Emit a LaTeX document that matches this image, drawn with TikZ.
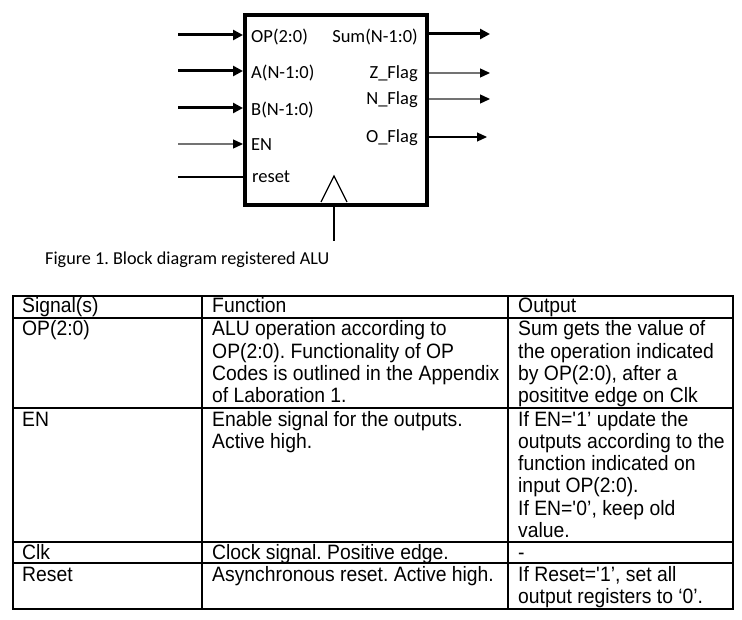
\documentclass[tikz,border=0pt]{standalone}
\usepackage{fontspec}
\setmainfont{Liberation Sans}
\newfontfamily\labelfont{Carlito}
\newfontfamily\tablefont[FakeStretch=0.93]{Liberation Sans}
\usetikzlibrary{arrows.meta}

% multi-line cell text, aligned on the baseline of its first line
\newcommand\cellrows[1]{\begin{tabular}[t]{@{}l@{}}#1\end{tabular}}

\begin{document}
\frenchspacing
\begin{tikzpicture}[x=1pt,y=-1pt,
  bus/.style={line width=3pt,-{Triangle[length=10pt,width=10pt]}},
  wire/.style={line width=1.3pt,black!55,-{Triangle[length=10pt,width=9pt,fill=black,color=black]}},
  wireblack/.style={line width=1.2pt,black,-{Triangle[length=10pt,width=9pt]}},
  pin/.style={font=\labelfont\fontsize{18.5}{22}\selectfont,inner sep=0pt},
  grid/.style={line width=1.1pt},
  cell/.style={font=\tablefont\fontsize{20.8}{22.3}\selectfont,inner sep=0pt,anchor=base west},
]
\useasboundingbox (0,0) rectangle (742,620);

% ---------- block ----------
\node[draw,line width=4pt,minimum width=182pt,minimum height=190pt,
      inner sep=0pt,anchor=north west] (alu) at (243,13) {};

% input sources
\coordinate (opsrc)  at (178,35);
\coordinate (asrc)   at (178,71);
\coordinate (bsrc)   at (178,108);
\coordinate (ensrc)  at (178,144);
\coordinate (rstsrc) at (178,177);
% output sinks
\coordinate (sumdst) at (490,34);
\coordinate (zdst)   at (490,73);
\coordinate (ndst)   at (490,99);
\coordinate (odst)   at (487,137);
% clock source
\coordinate (clksrc) at (334,241);

\draw[bus]  (opsrc) -- (opsrc -| alu.west);
\draw[bus]  (asrc)  -- (asrc  -| alu.west);
\draw[bus]  (bsrc)  -- (bsrc  -| alu.west);
\draw[wire] (ensrc) -- (ensrc -| alu.west);
\draw[line width=1.1pt] (rstsrc) -- (rstsrc -| alu.west);

\draw[bus]  (sumdst -| alu.east) -- (sumdst);
\draw[wire] (zdst -| alu.east) -- (zdst);
\draw[wire] (ndst -| alu.east) -- (ndst);
\draw[wireblack] (odst -| alu.east) -- (odst);

% clock input with edge marker
\draw[line width=1.2pt] (clksrc) -- (clksrc |- alu.south);
\draw[line width=1.2pt] (321,202) -- (334,176) -- (347,202);

% pin names
\node[pin,anchor=base west] (lop)  at (251,43)  {OP(2:0)};
\node[pin,anchor=base west] (la)   at (251,79)  {A(N-1:0)};
\node[pin,anchor=base west] (lb)   at (251,116) {B(N-1:0)};
\node[pin,anchor=base west] (len)  at (251,151) {EN};
\node[pin,anchor=base west] (lrst) at (252,183) {reset};
\node[pin,anchor=base east] (lsum) at (418,43)  {Sum(N-1:0)};
\node[pin,anchor=base east] (lz)   at (418,79)  {Z\_Flag};
\node[pin,anchor=base east] (ln)   at (418,105) {N\_Flag};
\node[pin,anchor=base east] (lo)   at (418,143) {O\_Flag};

% caption
\node[pin,font=\labelfont\fontsize{18.2}{22}\selectfont,anchor=base west] (cap)
  at (45,265) {Figure 1. Block diagram registered ALU};

% ---------- signal table ----------
\draw[grid] (13,296) rectangle (733,609);
\foreach \yy in {318,408,542,563} \draw[grid] (13,\yy) -- (733,\yy);
\draw[grid] (202,296) -- (202,609);
\draw[grid] (508,296) -- (508,609);

\node[cell] (h1) at (22,313)  {Signal(s)};
\node[cell] (h2) at (212,313) {Function};
\node[cell] (h3) at (518,313) {Output};

\node[cell] (s1) at (22,336)  {OP(2:0)};
\node[cell] (f1) at (212,336) {\cellrows{ALU operation according to\\OP(2:0). Functionality of OP\\Codes is outlined in the Appendix\\of Laboration 1.}};
\node[cell] (o1) at (518,336) {\cellrows{Sum gets the value of\\the operation indicated\\by OP(2:0), after a\\posititve edge on Clk}};

\node[cell] (s2) at (22,426)  {EN};
\node[cell] (f2) at (212,426) {\cellrows{Enable signal for the outputs.\\Active high.}};
\node[cell] (o2) at (518,426) {\cellrows{If EN=\textquotesingle1’ update the\\outputs according to the\\function indicated on\\input OP(2:0).\\If EN=\textquotesingle0’, keep old\\value.}};

\node[cell] (s3) at (22,559)  {Clk};
\node[cell] (f3) at (212,559) {Clock signal. Positive edge.};
\node[cell] (o3) at (518,559) {-};

\node[cell] (s4) at (22,581)  {Reset};
\node[cell] (f4) at (212,581) {Asynchronous reset. Active high.};
\node[cell] (o4) at (518,581) {\cellrows{If Reset=\textquotesingle1’, set all\\output registers to ‘0’.}};
\end{tikzpicture}
\end{document}
